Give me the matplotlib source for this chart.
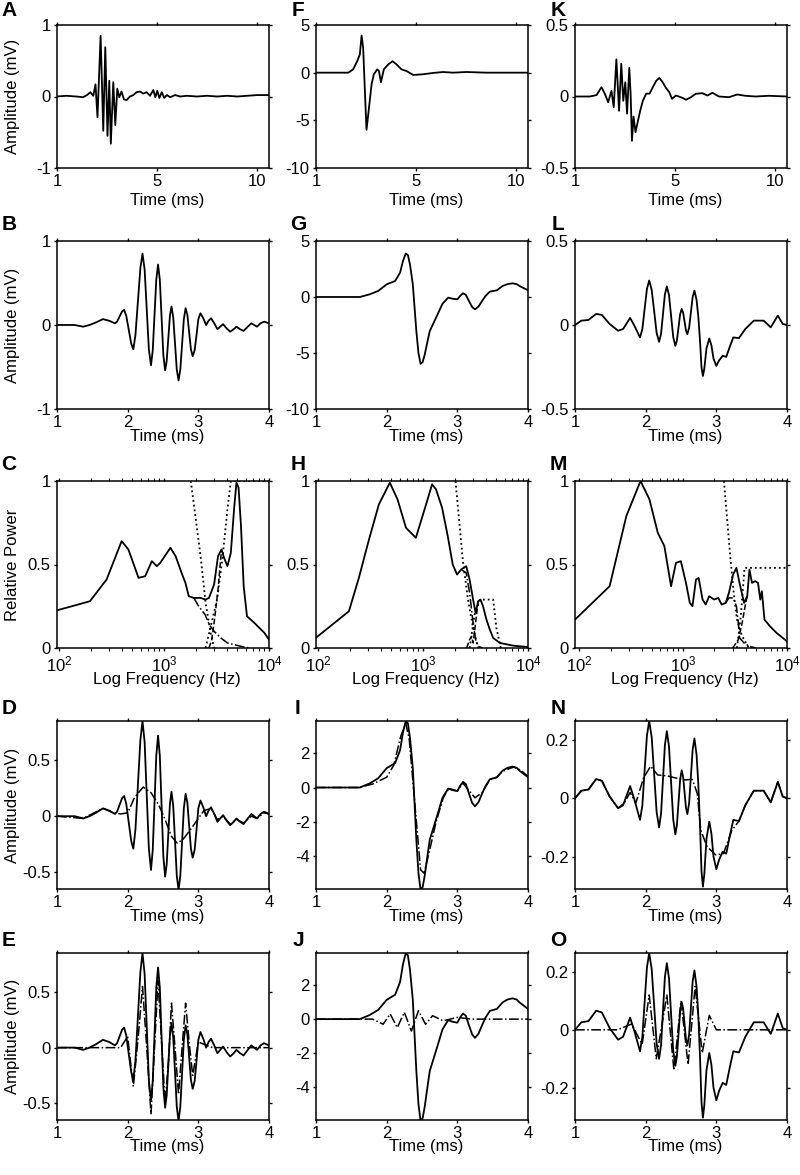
import numpy as np
import matplotlib
matplotlib.use("Agg")
import matplotlib.pyplot as plt
from matplotlib.ticker import FixedLocator, LogLocator, NullFormatter

plt.rcParams['font.family'] = ['Liberation Sans', 'DejaVu Sans']
plt.rcParams['font.size'] = 12
plt.rcParams['axes.unicode_minus'] = False

# ---- row 1: long recordings (axis position units) ----
a_pos = [1.0, 1.42, 1.87, 2.17, 2.35, 2.5, 2.63, 2.73, 2.82, 2.96, 3.08, 3.17, 3.27, 3.35, 3.42,
         3.53, 3.62, 3.71, 3.8, 3.9, 4.01, 4.13, 4.28, 4.43, 4.58, 4.73, 4.88, 5.03, 5.18, 5.33,
         5.42, 5.51, 5.6, 5.71, 5.82, 5.94, 6.09, 6.31, 6.54, 6.84, 7.29, 7.74, 8.2, 8.65, 9.1,
         9.55, 10.0, 10.53]
a_amp = [0, 0.01, 0, -0.01, 0.02, 0.06, 0.01, 0.17, -0.29, 0.85, -0.48, 0.69, -0.55, 0.22, -0.66,
         0.2, -0.4, 0.11, -0.01, 0.07, -0.04, -0.05, 0, 0.02, 0.06, 0.07, 0.04, 0.06, 0.01, 0.09,
         -0.01, 0.08, -0.02, 0.06, -0.02, 0.02, -0.01, 0.02, 0, 0.01, 0, 0.01, 0, 0.01, 0,
         0.01, 0.02, 0.02]

f_pos = [1.0, 2.45, 2.67, 2.85, 2.97, 3.05, 3.12, 3.24, 3.27, 3.35, 3.5, 3.6, 3.75, 3.83, 3.92,
         4.05, 4.25, 4.44, 4.62, 4.84, 5.07, 5.37, 5.81, 6.26, 6.71, 7.16, 7.76, 8.66, 9.55, 10.53]
f_amp = [0, 0, 0.35, 1.2, 1.9, 3.9, 2.6, -4.35, -6.0, -4.35, -1.2, -0.17, 0.35, 0.17, -1.0,
         0.35, 0.87, 1.2, 0.87, 0.35, 0.17, -0.24, -0.17, -0.03, 0.07, 0, 0.07, 0, 0, 0]

k_pos = [1.0, 1.67, 1.97, 2.19, 2.34, 2.49, 2.64, 2.74, 2.86, 2.98, 3.08, 3.17, 3.26, 3.34, 3.44,
         3.5, 3.56, 3.63, 3.72, 3.83, 3.93, 4.05, 4.2, 4.35, 4.5, 4.65, 4.79, 4.94, 5.09, 5.24,
         5.36, 5.54, 5.84, 5.99, 6.21, 6.43, 6.73, 6.95, 7.18, 7.47, 7.92, 8.29, 8.66, 9.11,
         9.71, 10.53]
k_amp = [0, 0, 0.01, 0.065, 0.02, -0.04, 0.04, -0.075, 0.26, -0.1, 0.23, -0.03, 0.1, -0.12, 0.2,
         0.02, -0.31, -0.14, -0.25, -0.17, -0.1, -0.03, 0.02, 0.02, 0.065, 0.11, 0.13, 0.1, 0.06,
         0.03, -0.016, 0.007, -0.01, -0.023, -0.005, 0.019, 0.023, 0.007, 0.026, 0, -0.005,
         0.014, 0.005, 0, 0.005, 0]

# ---- rows 2, 4, 5: zoomed responses (ms) ----
b_time = [1.0, 1.13, 1.25, 1.37, 1.46, 1.55, 1.65, 1.74, 1.82, 1.85, 1.885, 1.92, 1.95, 1.98,
          2.015, 2.05, 2.08, 2.11, 2.145, 2.18, 2.21, 2.24, 2.27, 2.30, 2.33, 2.355, 2.38, 2.405,
          2.43, 2.455, 2.48, 2.505, 2.53, 2.552, 2.575, 2.598, 2.62, 2.645, 2.67, 2.695, 2.72,
          2.745, 2.77, 2.795, 2.82, 2.845, 2.87, 2.895, 2.92, 2.948, 2.975, 3.0, 3.03, 3.07, 3.11,
          3.145, 3.18, 3.225, 3.27, 3.31, 3.35, 3.4, 3.45, 3.5, 3.54, 3.59, 3.64, 3.7, 3.75, 3.79,
          3.83, 3.88, 3.93, 4.0]
b_amp = [0, 0, 0.0, -0.02, 0, 0.03, 0.07, 0.05, 0.02, 0.04, 0.10, 0.16, 0.18, 0.11, -0.055,
         -0.22, -0.29, -0.12, 0.28, 0.68, 0.85, 0.66, 0.185, -0.29, -0.48, -0.30, 0.12, 0.54,
         0.72, 0.54, 0.09, -0.36, -0.54, -0.43, -0.16, 0.11, 0.22, 0.09, -0.22, -0.53, -0.66,
         -0.53, -0.23, 0.07, 0.2, 0.12, -0.085, -0.29, -0.37, -0.30, -0.115, 0.07, 0.14, 0.08,
         0.0, 0.05, 0.08, 0.02, -0.05, -0.02, 0.01, -0.04, -0.08, -0.05, -0.02, -0.05, -0.07,
         -0.02, 0.02, 0.0, -0.02, 0.02, 0.04, 0.02]

g_time = [1.0, 1.62, 1.76, 1.88, 2.0, 2.12, 2.19, 2.23, 2.27, 2.3, 2.33, 2.37, 2.42, 2.45, 2.48,
          2.51, 2.54, 2.57, 2.61, 2.71, 2.79, 2.87, 2.93, 3.0, 3.04, 3.08, 3.12, 3.16, 3.21, 3.25,
          3.3, 3.35, 3.4, 3.46, 3.56, 3.64, 3.71, 3.78, 3.84, 3.88, 4.0]
g_amp = [0, 0, 0.24, 0.54, 1.13, 1.43, 2.18, 3.2, 3.88, 3.75, 2.9, 1.13, -3.04, -5.0, -5.97,
         -5.8, -5.1, -4.2, -3.04, -1.7, -0.6, -0.06, -0.15, -0.21, 0.1, 0.33, 0.2, -0.3, -0.9,
         -1.1, -0.85, -0.36, 0.1, 0.48, 0.6, 0.98, 1.15, 1.22, 1.15, 0.98, 0.6]

l_time = [1.0, 1.09, 1.19, 1.3, 1.38, 1.49, 1.61, 1.68, 1.78, 1.84, 1.92, 1.953, 1.985, 2.018,
          2.05, 2.085, 2.12, 2.155, 2.19, 2.218, 2.245, 2.272, 2.3, 2.33, 2.36, 2.39, 2.42, 2.442,
          2.465, 2.488, 2.51, 2.53, 2.55, 2.57, 2.59, 2.615, 2.64, 2.665, 2.69, 2.72, 2.745, 2.77,
          2.79, 2.81, 2.83, 2.86, 2.9, 2.93, 2.96, 3.0, 3.04, 3.09, 3.14, 3.19, 3.24, 3.32, 3.41,
          3.53, 3.67, 3.77, 3.87, 3.94, 4.0]
l_amp = [0, 0.026, 0.03, 0.066, 0.06, 0.006, -0.034, -0.024, 0.042, -0.004, -0.074, -0.025,
         0.095, 0.215, 0.265, 0.21, 0.083, -0.047, -0.1, -0.052, 0.065, 0.182, 0.23, 0.178, 0.053,
         -0.072, -0.124, -0.092, -0.014, 0.064, 0.096, 0.074, 0.021, -0.032, -0.054, -0.016,
         0.075, 0.167, 0.205, 0.15, 0.05, -0.1, -0.25, -0.303, -0.26, -0.14, -0.08, -0.12, -0.2,
         -0.243, -0.21, -0.183, -0.19, -0.13, -0.074, -0.078, -0.024, 0.026, 0.026, -0.014,
         0.056, 0.006, 0]

# low-frequency reconstructions (dash-dot, row 4)
d_time = [1.0, 1.37, 1.65, 1.8, 1.9, 2.0, 2.1, 2.22, 2.33, 2.44, 2.53, 2.62, 2.7, 2.78, 2.9, 3.0,
          3.08, 3.18, 3.27, 3.35, 3.45, 3.54, 3.64, 3.75, 3.83, 3.93, 4.0]
d_low = [0, -0.02, 0.07, 0.03, 0.02, 0.03, 0.17, 0.26, 0.21, 0.1, -0.03, -0.18, -0.24, -0.21,
         -0.11, -0.02, 0.05, 0.07, -0.03, 0.0, -0.07, -0.03, -0.06, 0.0, -0.02, 0.03, 0.02]

i_time = [1.0, 1.6, 1.8, 2.0, 2.1, 2.2, 2.27, 2.32, 2.4, 2.48, 2.53, 2.6, 2.7, 2.8, 2.88, 3.0,
          3.08, 3.25, 3.35, 3.46, 3.56, 3.64, 3.8, 3.9, 4.0]
i_low = [0, 0, 0.2, 0.6, 1.3, 3.0, 3.75, 2.8, -1.0, -4.8, -5.0, -3.8, -2.0, -0.6, -0.05, -0.2,
         0.25, -0.6, -0.3, 0.45, 0.6, 0.95, 1.2, 1.0, 0.65]

n_time = [1.0, 1.09, 1.19, 1.3, 1.38, 1.49, 1.61, 1.7, 1.78, 1.86, 1.97, 2.07, 2.17, 2.3, 2.42,
          2.56, 2.66, 2.73, 2.78, 2.87, 2.99, 3.1, 3.22, 3.32, 3.41, 3.53, 3.67, 3.77, 3.87, 3.94, 4.0]
n_low = [0, 0.026, 0.03, 0.066, 0.06, 0.006, -0.034, -0.015, 0.02, -0.017, 0.07, 0.11, 0.08,
         0.077, 0.07, 0.063, 0.065, 0.017, -0.11, -0.166, -0.194, -0.19, -0.11, -0.078, -0.024,
         0.026, 0.026, -0.014, 0.056, 0.006, 0]

# high-frequency components (row 5)
e_time = [1.0, 1.9, 2.0, 2.08, 2.15, 2.21, 2.27, 2.33, 2.38, 2.43, 2.48, 2.53, 2.58, 2.62, 2.67,
          2.72, 2.77, 2.82, 2.87, 2.92, 3.0, 3.2, 4.0]
e_high = [0, 0, 0.1, -0.35, 0.1, 0.55, 0.0, -0.6, 0.0, 0.6, 0.05, -0.5, -0.1, 0.4, 0.0, -0.42,
          0.0, 0.4, 0.05, -0.25, 0.05, 0, 0]
j_time = [1.0, 1.8, 1.95, 2.05, 2.15, 2.25, 2.35, 2.45, 2.55, 2.65, 2.8, 3.0, 3.2, 3.5, 4.0]
j_high = [0, 0, -0.3, 0.3, -0.5, 0.4, -0.7, 0.5, -0.3, 0.2, -0.1, 0.1, 0, 0, 0]
o_time = [1.0, 1.6, 1.8, 1.95, 2.05, 2.15, 2.3, 2.4, 2.5, 2.6, 2.7, 2.8, 2.9, 3.0, 3.2, 4.0]
o_high = [0, 0, 0.02, -0.05, 0.12, -0.1, 0.12, -0.14, 0.1, -0.12, 0.15, -0.08, 0.05, 0, 0, 0]

# ---- row 3: spectra (Hz, relative power) ----
c_freq = [95, 197, 284, 395, 458, 572, 662, 766, 855, 922, 1150, 1290, 1490, 1600, 1720, 1920,
          2230, 2490, 2680, 3000, 3270, 3530, 3730, 4020, 4330, 4660, 4900, 5130, 5410, 5740,
          6170, 7260, 9050, 10000]
c_pow = [0.225, 0.28, 0.41, 0.64, 0.59, 0.42, 0.43, 0.52, 0.49, 0.51, 0.6, 0.55, 0.44, 0.39, 0.31,
         0.3, 0.3, 0.29, 0.3, 0.38, 0.55, 0.59, 0.54, 0.49, 0.57, 0.84, 0.99, 0.96, 0.73, 0.37,
         0.19, 0.15, 0.09, 0.05]
c_low_freq = [1920, 2140, 2460, 2700, 3000, 3480, 4020, 4660, 5410, 6500]
c_low_pow = [0.3, 0.25, 0.2, 0.14, 0.1, 0.06, 0.03, 0.02, 0.01, 0.0]
c_high_freq = [2680, 2850, 3000, 3270, 3530]
c_high_pow = [0.0, 0.05, 0.15, 0.35, 0.59]
c_filt1_freq = [1800, 2230, 2490, 2780, 3000]
c_filt1_gain = [1.0, 0.55, 0.27, 0.09, 0.0]
c_filt2_freq = [2490, 3200, 3590, 4020, 4330, 10000]
c_filt2_gain = [0.0, 0.29, 0.53, 0.83, 1.0, 1.0]

h_freq = [95, 197, 245, 306, 380, 483, 572, 688, 855, 1070, 1220, 1330, 1520, 1720, 1920, 2110,
          2310, 2580, 2780, 3000, 3170, 3350, 3530, 3730, 4020, 4330, 4660, 5410, 7260, 10000]
h_pow = [0.06, 0.22, 0.42, 0.65, 0.86, 0.99, 0.89, 0.72, 0.66, 0.86, 0.98, 0.95, 0.84, 0.67, 0.5,
         0.44, 0.47, 0.49, 0.41, 0.29, 0.21, 0.28, 0.29, 0.25, 0.17, 0.11, 0.06, 0.03, 0.014, 0.006]
h_low_freq = [2310, 2580, 2780, 3000, 3170, 3350, 3700]
h_low_pow = [0.47, 0.45, 0.33, 0.15, 0.05, 0.01, 0.0]
h_high_freq = [2600, 2780, 2900, 3000, 3170, 3350]
h_high_pow = [0.0, 0.05, 0.07, 0.03, 0.15, 0.28]
h_filt1_freq = [2040, 2390, 2680, 3000, 3350]
h_filt1_gain = [1.0, 0.53, 0.29, 0.12, 0.0]
h_filt2_freq = [2780, 3100, 3500, 4660, 5000, 5500]
h_filt2_gain = [0.0, 0.2, 0.29, 0.29, 0.12, 0.0]

m_freq = [91, 196, 284, 389, 474, 570, 660, 765, 853, 951, 1065, 1160, 1230, 1330, 1410, 1540,
          1650, 1780, 1990, 2180, 2350, 2570, 2760, 3030, 3260, 3490, 3860, 4140, 4350, 4600,
          4950, 5260, 5530, 5730, 6070, 6860, 7940, 10000]
m_pow = [0.17, 0.37, 0.79, 1.0, 0.89, 0.69, 0.61, 0.37, 0.51, 0.52, 0.39, 0.27, 0.25, 0.41, 0.42,
         0.29, 0.26, 0.31, 0.29, 0.3, 0.26, 0.27, 0.33, 0.44, 0.48, 0.39, 0.27, 0.31, 0.47, 0.39,
         0.4, 0.39, 0.29, 0.34, 0.17, 0.13, 0.09, 0.04]
m_low_freq = [2570, 2760, 3030, 3260, 3400, 3500, 3860, 4350, 5000]
m_low_pow = [0.27, 0.3, 0.3, 0.25, 0.15, 0.06, 0.03, 0.01, 0.0]
m_high_freq = [3000, 3400, 3700, 3950, 4140]
m_high_pow = [0.0, 0.05, 0.15, 0.25, 0.31]
m_filt1_freq = [2470, 2860, 3070, 3300, 3700, 4300]
m_filt1_gain = [1.0, 0.53, 0.33, 0.17, 0.07, 0.0]
m_filt2_freq = [3300, 3600, 3900, 10000]
m_filt2_gain = [0.0, 0.2, 0.48, 0.48]

W, H = 800, 1175
COL_LEFT = [57, 316, 575]
COL_W = 212
ROWS = [(25, 168), (241, 409), (481, 648), (721, 889), (953, 1120)]
# distance (px) from the bottom spine to the top of the x label, per row
XLABEL_GAP = [25, 20, 24, 20, 19]


def make_axes(fig, row, col):
    top, bottom = ROWS[row]
    rect = [COL_LEFT[col] / W, 1 - bottom / H, COL_W / W, (bottom - top) / H]
    ax = fig.add_axes(rect)
    ax.tick_params(direction='out', top=True, right=True, length=2.5, width=1, pad=2,
                   labelsize=12)
    ax.tick_params(which='minor', direction='out', top=True, length=2, width=0.8)
    for s in ax.spines.values():
        s.set_linewidth(1.1)
    return ax


def set_yticks(ax, ticks, lim):
    ax.set_ylim(*lim)
    ax.set_yticks(ticks)
    ax.set_yticklabels(['%g' % t for t in ticks])


def place_xlabel(ax, row, text):
    top, bottom = ROWS[row]
    ax.set_xlabel(text, fontsize=12)
    ax.xaxis.set_label_coords(0.52, -XLABEL_GAP[row] / (bottom - top))


def place_ylabel(ax, text):
    ax.set_ylabel(text, fontsize=12)
    ax.yaxis.set_label_coords(-0.175, 0.5)


def time_axis(ax, row):
    ax.set_xlim(1, 4)
    ax.set_xticks([1, 2, 3, 4])
    ax.set_xticklabels(['1', '2', '3', '4'])
    place_xlabel(ax, row, 'Time (ms)')


def long_axis(ax):
    ax.set_xlim(1, 10.53)
    ax.set_xticks([1, 5.5, 10])
    ax.set_xticklabels(['1', '5', '10'])
    place_xlabel(ax, 0, 'Time (ms)')


def freq_axis(ax, left):
    ax.set_xscale('log')
    ax.set_xlim(left, 10000)
    ax.xaxis.set_major_locator(FixedLocator([100, 1000, 10000]))
    ax.xaxis.set_minor_locator(LogLocator(base=10, subs=np.arange(2, 10)))
    ax.xaxis.set_minor_formatter(NullFormatter())
    place_xlabel(ax, 2, 'Log Frequency (Hz)')
    set_yticks(ax, [0, 0.5, 1], (0, 1))


def main():
    fig = plt.figure(figsize=(W / 100, H / 100), dpi=100)
    lw = 1.3
    lw2 = 1.1

    # row 1
    ax = make_axes(fig, 0, 0)
    ax.plot(a_pos, a_amp, 'k-', lw=lw)
    long_axis(ax)
    set_yticks(ax, [-1, 0, 1], (-1, 1))
    place_ylabel(ax, 'Amplitude (mV)')
    ax = make_axes(fig, 0, 1)
    ax.plot(f_pos, f_amp, 'k-', lw=lw)
    long_axis(ax)
    set_yticks(ax, [-10, -5, 0, 5], (-10, 5))
    ax = make_axes(fig, 0, 2)
    ax.plot(k_pos, k_amp, 'k-', lw=lw)
    long_axis(ax)
    set_yticks(ax, [-0.5, 0, 0.5], (-0.5, 0.5))

    # row 2
    ax = make_axes(fig, 1, 0)
    ax.plot(b_time, b_amp, 'k-', lw=lw)
    time_axis(ax, 1)
    set_yticks(ax, [-1, 0, 1], (-1, 1))
    place_ylabel(ax, 'Amplitude (mV)')
    ax = make_axes(fig, 1, 1)
    ax.plot(g_time, g_amp, 'k-', lw=lw)
    time_axis(ax, 1)
    set_yticks(ax, [-10, -5, 0, 5], (-10, 5))
    ax = make_axes(fig, 1, 2)
    ax.plot(l_time, l_amp, 'k-', lw=lw)
    time_axis(ax, 1)
    set_yticks(ax, [-0.5, 0, 0.5], (-0.5, 0.5))

    # row 3: spectra
    spectra = [
        (c_freq, c_pow, c_low_freq, c_low_pow, c_high_freq, c_high_pow,
         c_filt1_freq, c_filt1_gain, c_filt2_freq, c_filt2_gain, 95.7),
        (h_freq, h_pow, h_low_freq, h_low_pow, h_high_freq, h_high_pow,
         h_filt1_freq, h_filt1_gain, h_filt2_freq, h_filt2_gain, 95.7),
        (m_freq, m_pow, m_low_freq, m_low_pow, m_high_freq, m_high_pow,
         m_filt1_freq, m_filt1_gain, m_filt2_freq, m_filt2_gain, 91),
    ]
    for col, sp in enumerate(spectra):
        ax = make_axes(fig, 2, col)
        fr, pw, lf, lp, hf, hp, f1, g1, f2, g2, left = sp
        ax.plot(f1, g1, 'k:', lw=1.3)
        ax.plot(f2, g2, 'k:', lw=1.3)
        ax.plot(lf, lp, 'k-.', lw=lw2)
        ax.plot(hf, hp, 'k--', lw=lw2)
        ax.plot(fr, pw, 'k-', lw=lw)
        freq_axis(ax, left)
        if col == 0:
            place_ylabel(ax, 'Relative Power')

    # row 4: low-frequency reconstructions
    ax = make_axes(fig, 3, 0)
    ax.plot(b_time, b_amp, 'k-', lw=lw)
    ax.plot(d_time, d_low, 'k-.', lw=lw2)
    time_axis(ax, 3)
    set_yticks(ax, [-0.5, 0, 0.5], (-0.65, 0.85))
    place_ylabel(ax, 'Amplitude (mV)')
    ax = make_axes(fig, 3, 1)
    ax.plot(g_time, g_amp, 'k-', lw=lw)
    ax.plot(i_time, i_low, 'k-.', lw=lw2)
    time_axis(ax, 3)
    set_yticks(ax, [-4, -2, 0, 2], (-5.92, 3.88))
    ax = make_axes(fig, 3, 2)
    ax.plot(l_time, l_amp, 'k-', lw=lw)
    ax.plot(n_time, n_low, 'k-.', lw=lw2)
    time_axis(ax, 3)
    set_yticks(ax, [-0.2, 0, 0.2], (-0.311, 0.265))

    # row 5: high-frequency components
    ax = make_axes(fig, 4, 0)
    ax.plot(b_time, b_amp, 'k-', lw=lw)
    ax.plot(e_time, e_high, 'k-.', lw=lw2)
    time_axis(ax, 4)
    set_yticks(ax, [-0.5, 0, 0.5], (-0.65, 0.85))
    place_ylabel(ax, 'Amplitude (mV)')
    ax = make_axes(fig, 4, 1)
    ax.plot(g_time, g_amp, 'k-', lw=lw)
    ax.plot(j_time, j_high, 'k-.', lw=lw2)
    time_axis(ax, 4)
    set_yticks(ax, [-4, -2, 0, 2], (-5.92, 3.88))
    ax = make_axes(fig, 4, 2)
    ax.plot(l_time, l_amp, 'k-', lw=lw)
    ax.plot(o_time, o_high, 'k-.', lw=lw2)
    time_axis(ax, 4)
    set_yticks(ax, [-0.2, 0, 0.2], (-0.311, 0.265))

    # panel letters
    letters = [['A', 'F', 'K'], ['B', 'G', 'L'], ['C', 'H', 'M'], ['D', 'I', 'N'], ['E', 'J', 'O']]
    label_y = [11, 224, 465, 708, 940]
    label_x = [9, 298, 558]
    for r in range(5):
        for c in range(3):
            fig.text(label_x[c] / W, 1 - label_y[r] / H, letters[r][c], fontsize=15,
                     fontweight='bold', ha='center', va='center')

    fig.savefig('out.png', dpi=100)


if __name__ == "__main__":
    main()
